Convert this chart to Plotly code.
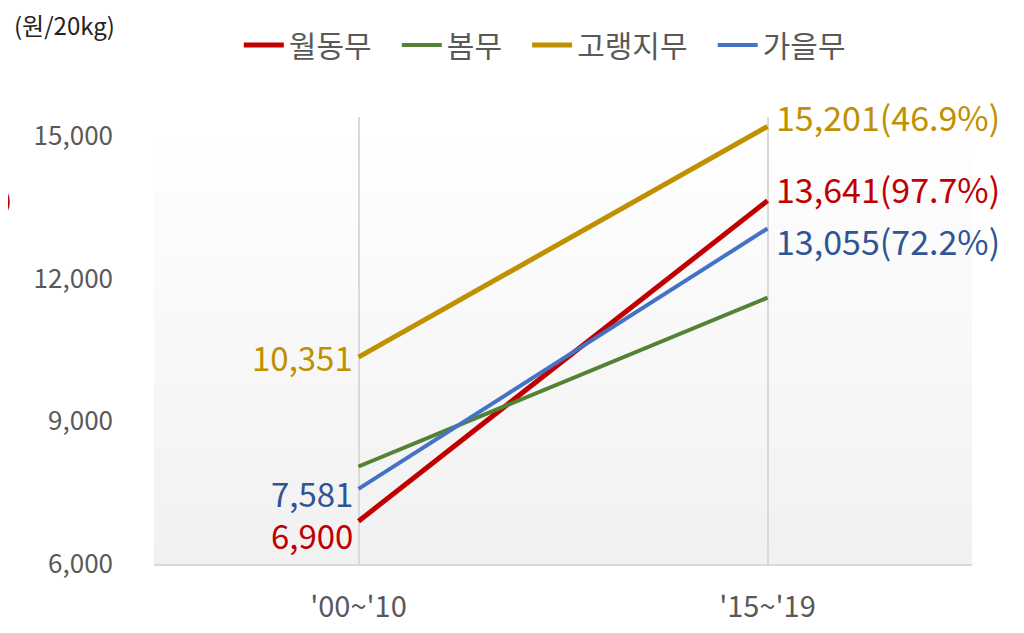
import plotly.graph_objects as go

periods = ["'00~'10", "'15~'19"]
series_names = ["월동무", "봄무", "고랭지무", "가을무"]
winter = [6900, 13641]
spring = [8050, 11600]
highland = [10351, 15201]
autumn = [7581, 13055]
end_labels = {"월동무": "13,641(97.7%)", "고랭지무": "15,201(46.9%)", "가을무": "13,055(72.2%)"}
y_ticks = [6000, 9000, 12000, 15000]

FONT = "Noto Sans CJK KR"
line_colors = ["#c00000", "#548235", "#bf9000", "#4472c4"]
label_colors = ["#c00000", "#548235", "#bf9000", "#2f5597"]
widths = [5, 4, 5, 4]
series_vals = [winter, spring, highland, autumn]

fig = go.Figure()
for name, vals, col, w in zip(series_names, series_vals, line_colors, widths):
    # trailing non-breaking spaces widen the gap between legend entries
    fig.add_trace(go.Scatter(x=periods, y=vals, name=name + "\u00a0\u00a0\u00a0", mode="lines",
                             line=dict(color=col, width=w), hovertemplate="%{y:,}<extra>" + name + "</extra>"))

# gradient plot background (white at top -> light gray at bottom)
n = 40
top = 0.95
for i in range(n):
    t = i / (n - 1)
    g = int(round(241 + t * (254 - 241)))
    fig.add_shape(type="rect", xref="x domain", yref="paper", layer="below",
                  x0=0, x1=1, y0=i / n * top, y1=(i + 1) / n * top + 0.002,
                  fillcolor=f"rgb({g},{g},{g})", line_width=0)

left_shift = {"월동무": -14, "고랭지무": 0, "가을무": -4}
for name, vals, col in zip(series_names, series_vals, label_colors):
    if name in left_shift:
        fig.add_annotation(x=periods[0], y=vals[0], text=f"{vals[0]:,}", showarrow=False,
                           xanchor="right", xshift=-4, yshift=left_shift[name],
                           font=dict(family=FONT, size=33, color=col))
right_shift = {"월동무": 12, "고랭지무": 10, "가을무": -12}
for name, vals, col in zip(series_names, series_vals, label_colors):
    if name in end_labels:
        fig.add_annotation(x=periods[1], y=vals[1], text=end_labels[name], showarrow=False,
                           xanchor="left", xshift=6, yshift=right_shift[name],
                           font=dict(family=FONT, size=34, color=col))

fig.add_annotation(xref="paper", yref="paper", x=-0.174, y=1.206, text="(원/20kg)",
                   showarrow=False, xanchor="left", yanchor="middle",
                   font=dict(family=FONT, size=24, color="#222222"))
# clipped text at the left edge, as in the source image
fig.add_annotation(xref="paper", yref="y", x=-0.172, y=13650, text="0",
                   showarrow=False, xanchor="right",
                   font=dict(family=FONT, size=33, color="#c00000"))

fig.update_xaxes(type="category", range=[-0.5, 1.5], showgrid=True, gridcolor="#d9d9d9",
                 gridwidth=2, showline=True, linecolor="#d9d9d9", linewidth=2,
                 ticks="", tickfont=dict(family=FONT, size=29, color="#595959"), ticklabelstandoff=16)
fig.update_yaxes(range=[6000, 15400], tickvals=y_ticks, tickformat=",", showgrid=False,
                 zeroline=False, ticks="", ticklabelstandoff=40,
                 tickfont=dict(family=FONT, size=26, color="#595959"))

fig.update_layout(
    width=1024, height=633,
    margin=dict(l=146, r=60, t=109, b=77, autoexpand=False),
    paper_bgcolor="white", plot_bgcolor="rgba(0,0,0,0)",
    font=dict(family=FONT),
    legend=dict(orientation="h", x=0.49, xanchor="center", y=1.161, yanchor="middle",
                font=dict(family=FONT, size=30, color="#595959"),
                itemwidth=40, tracegroupgap=0),
    showlegend=True,
)

fig.write_html("out.html")
